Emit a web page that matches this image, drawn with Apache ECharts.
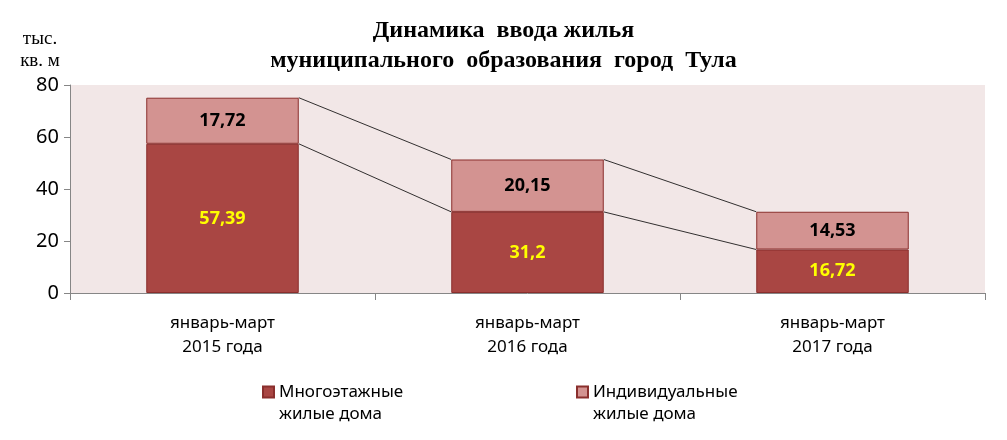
<!DOCTYPE html>
<html>
<head>
<meta charset="utf-8">
<script src="https://cdn.jsdelivr.net/npm/echarts@6/dist/echarts.min.js"></script>
<style>html,body{margin:0;padding:0;background:#fff}#c{width:1007px;height:440px}</style>
</head>
<body>
<div id="c"></div>
<script>
const categories = ['январь-март\n2015 года', 'январь-март\n2016 года', 'январь-март\n2017 года'];
const multiStorey = [57.39, 31.2, 16.72];
const individual = [17.72, 20.15, 14.53];
const yTicks = {min: 0, max: 80, interval: 20};
const seriesNames = ['Многоэтажные\nжилые дома', 'Индивидуальные\nжилые дома'];

const totals = multiStorey.map((v, i) => v + individual[i]);
function connectors(vals) {
  const out = [];
  for (let i = 0; i < vals.length - 1; i++) out.push([i, vals[i], vals[i + 1]]);
  return out;
}
function fmt(v) { return String(v).replace('.', ','); }

const chart = echarts.init(document.getElementById('c'));
const sansFont = '"Noto Sans", "Open Sans", sans-serif';
const serifFont = '"Liberation Serif", "DejaVu Serif", serif';

function renderConnector(params, api) {
  const i = api.value(0);
  const p1 = api.coord([i, api.value(1)]);
  const p2 = api.coord([i + 1, api.value(2)]);
  const hw = api.size([1, 0])[0] * 0.25;
  return {
    type: 'line',
    shape: {x1: p1[0] + hw, y1: p1[1], x2: p2[0] - hw, y2: p2[1]},
    style: {stroke: '#000', lineWidth: 0.8}
  };
}

const legendText = {fontFamily: sansFont, fontSize: 17, color: '#000', lineHeight: 22};

chart.setOption({
  animation: false,
  title: {
    text: 'Динамика  ввода жилья\nмуниципального  образования  город  Тула',
    left: 'center', top: 11,
    textStyle: {fontFamily: serifFont, fontSize: 24, fontWeight: 'bold', color: '#000', lineHeight: 30}
  },
  legend: [
    {left: 262, top: 359, padding: 0, itemWidth: 11, itemHeight: 11, itemGap: 0, icon: 'rect',
     data: [seriesNames[0]], textStyle: legendText, formatter: n => '\n' + n},
    {left: 576, top: 359, padding: 0, itemWidth: 11, itemHeight: 11, itemGap: 0, icon: 'rect',
     data: [seriesNames[1]], textStyle: legendText, formatter: n => '\n' + n}
  ],
  grid: {left: 70, right: 22, top: 85, bottom: 147, show: true, backgroundColor: '#F2E7E7', borderWidth: 0},
  xAxis: {
    type: 'category', data: categories,
    axisLine: {lineStyle: {color: '#868686'}},
    axisTick: {show: true, length: 7, lineStyle: {color: '#868686'}},
    axisLabel: {fontFamily: sansFont, fontSize: 17, color: '#000', lineHeight: 24, margin: 18}
  },
  yAxis: {
    type: 'value', min: yTicks.min, max: yTicks.max, interval: yTicks.interval,
    name: 'тыс.\nкв. м', nameLocation: 'end', nameGap: 13,
    nameTextStyle: {fontFamily: serifFont, fontSize: 19, color: '#000', lineHeight: 22, align: 'center', padding: [0, 60, 0, 0]},
    axisLine: {show: true, lineStyle: {color: '#868686'}},
    axisTick: {show: true, length: 6, lineStyle: {color: '#868686'}},
    splitLine: {show: false},
    axisLabel: {fontFamily: sansFont, fontSize: 20, color: '#000', margin: 11}
  },
  series: [
    {
      name: seriesNames[0], type: 'bar', stack: 's', barWidth: '50%',
      data: multiStorey,
      itemStyle: {color: '#A94643', borderColor: '#8A2F2D', borderWidth: 1},
      label: {show: true, position: 'inside', formatter: p => fmt(p.value),
        fontFamily: sansFont, fontSize: 18, fontWeight: 'bold', color: '#FFFF00'}
    },
    {
      name: seriesNames[1], type: 'bar', stack: 's', barWidth: '50%',
      data: individual,
      itemStyle: {color: '#D39391', borderColor: '#8A2F2D', borderWidth: 1},
      label: {show: true, position: 'inside', formatter: p => fmt(p.value),
        fontFamily: sansFont, fontSize: 18, fontWeight: 'bold', color: '#000'}
    },
    {type: 'custom', renderItem: renderConnector, data: connectors(multiStorey), silent: true, z: 1},
    {type: 'custom', renderItem: renderConnector, data: connectors(totals), silent: true, z: 1}
  ]
});
</script>
</body>
</html>
